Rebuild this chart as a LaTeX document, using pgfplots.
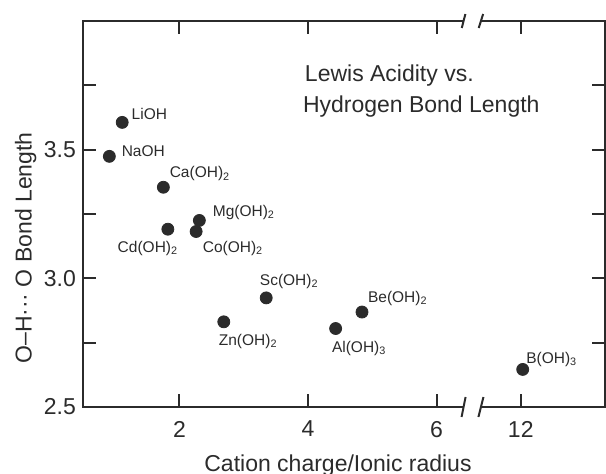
\documentclass[border=0pt]{standalone}
\usepackage{fontspec}
\setmainfont{Liberation Sans}
\usepackage{pgfplots}
\pgfplotsset{compat=1.18}
\definecolor{ink}{rgb}{0.17,0.17,0.17}
\pgfplotstableread{
x y
1.11 3.606
0.91 3.474
1.75 3.354
2.31 3.225
2.26 3.182
1.82 3.191
3.35 2.924
2.69 2.831
4.84 2.869
4.43 2.805
12.03 2.646
}\datatable
\begin{document}
\begin{tikzpicture}
\begin{axis}[
  at={(0,0)}, anchor=south west,
  scale only axis, width=261pt, height=193pt,
  xmin=0.5, xmax=13.31, ymin=2.5, ymax=4.0,
  x coord trafo/.code={\pgfmathparse{#1>9 ? #1-4.69 : #1}},
  xtick={2,4,6,12}, xticklabels={2,4,6,12},
  ytick={2.5,2.75,3.0,3.25,3.5,3.75}, yticklabels={2.5,,3.0,,3.5,},
  tick align=inside, major tick length=6.5pt,
  tick style={ink, line width=1pt},
  axis line style={draw=none},
  ticklabel style={font=\fontsize{11.5}{13}\selectfont, text=ink},
  xticklabel style={yshift=-3.5pt},
  /pgf/number format/assume math mode=true,
  clip=false,
  xlabel={Cation charge/Ionic radius},
  ylabel={O–H··· O Bond Length},
  label style={font=\fontsize{11.5}{13}\selectfont, text=ink},
  xlabel style={at={(axis description cs:0.4885,0)}, anchor=base, yshift=-32pt},
  ylabel style={at={(axis description cs:-0.11,0.412)}, anchor=center},
]
\addplot[only marks, mark=*, mark size=3pt, ink] table {\datatable};
\coordinate (SW) at (rel axis cs:0,0);
\coordinate (SE) at (rel axis cs:1,0);
\coordinate (NW) at (rel axis cs:0,1);
\coordinate (NE) at (rel axis cs:1,1);
\coordinate (BL) at (axis cs:6.42,2.5);
\coordinate (BR) at (axis cs:6.69,2.5);
\coordinate (TL) at (axis cs:6.42,4.0);
\coordinate (TR) at (axis cs:6.69,4.0);
\begin{scope}[every node/.style={anchor=base west, font=\fontsize{7.75}{9}\selectfont, text=ink, inner sep=0pt}]
\node at (axis cs:1.252,3.618) {LiOH};
\node at (axis cs:1.097,3.475) {NaOH};
\node at (axis cs:1.844,3.390) {Ca(OH)\textsubscript{2}};
\node at (axis cs:2.514,3.242) {Mg(OH)\textsubscript{2}};
\node at (axis cs:1.034,3.099) {Cd(OH)\textsubscript{2}};
\node at (axis cs:2.358,3.099) {Co(OH)\textsubscript{2}};
\node at (axis cs:3.246,2.971) {Sc(OH)\textsubscript{2}};
\node at (axis cs:2.607,2.738) {Zn(OH)\textsubscript{2}};
\node at (axis cs:4.928,2.905) {Be(OH)\textsubscript{2}};
\node at (axis cs:4.368,2.711) {Al(OH)\textsubscript{3}};
\node at (axis cs:12.08,2.669) {B(OH)\textsubscript{3}};
\end{scope}
\begin{scope}[every node/.style={anchor=base west, font=\fontsize{11.5}{13}\selectfont, text=ink, inner sep=0pt}]
\node at (axis cs:3.947,3.766) {Lewis Acidity vs.};
\node at (axis cs:3.916,3.645) {Hydrogen Bond Length};
\end{scope}
\end{axis}
\draw[ink, line width=1pt] (BL) -- (SW) -- (NW) -- (TL);
\draw[ink, line width=1pt] (TR) -- (NE) -- (SE) -- (BR);
\draw[ink, line width=1pt] ([shift={(-1pt,-5pt)}]BL) -- ([shift={(1pt,5pt)}]BL);
\draw[ink, line width=1pt] ([shift={(-1.25pt,-5pt)}]BR) -- ([shift={(1.25pt,5pt)}]BR);
\draw[ink, line width=1pt] ([shift={(-0.9pt,-3.5pt)}]TL) -- ([shift={(0.9pt,3.5pt)}]TL);
\draw[ink, line width=1pt] ([shift={(-1.1pt,-3.5pt)}]TR) -- ([shift={(1.1pt,3.5pt)}]TR);
\pgfresetboundingbox
\path[use as bounding box] (-41.5pt,-33pt) rectangle (261.5pt,203.5pt);
\end{tikzpicture}
\end{document}
